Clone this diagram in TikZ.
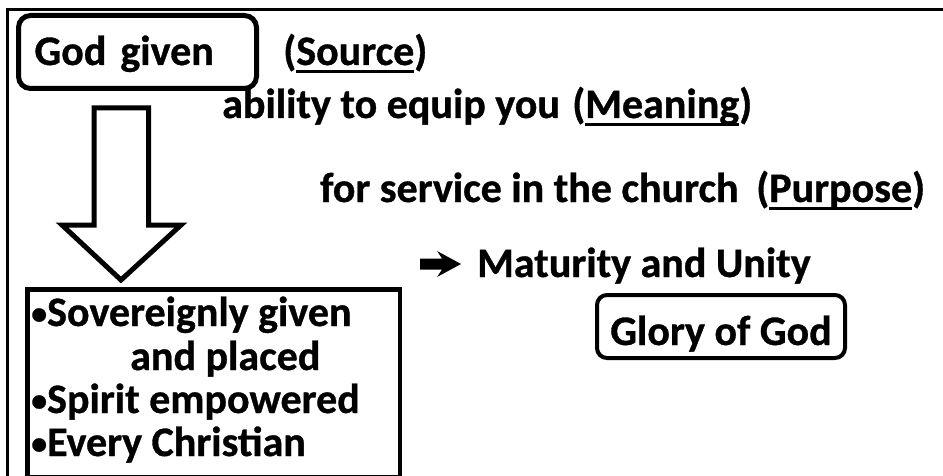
\documentclass[tikz,border=0pt]{standalone}
\usepackage{fontspec}
\setmainfont{Carlito}[BoldFeatures={FakeBold=0.8}]
\newcommand\myul[1]{\setbox0\hbox{#1}\rlap{\rule[-0.2em]{\wd0}{0.07em}}\box0}
\newcommand\smallbullet{{\fontsize{32}{32}\selectfont\raisebox{2pt}{•}}}
\begin{document}
\begin{tikzpicture}[x=1pt,y=-1pt,
  every node/.style={font=\fontsize{42}{44}\selectfont\bfseries, inner sep=0pt, text=black},
  txt/.style={anchor=base west},
  rbox/.style={draw, rounded corners=12pt, line width=5pt},
  framestyle/.style={line width=3pt},
  blockarrow/.style={line width=5pt, miter limit=10},
  listbox/.style={draw, line width=4.5pt, anchor=north west}]
\useasboundingbox (0,0) rectangle (943,476);
% outer frame (only top and left edges visible)
\draw[framestyle] (7.5,478) -- (7.5,10) -- (945,10);
% God given box
\node[rbox, minimum height=73pt, text width=206pt, inner xsep=16pt, align=left,
      text height=30pt, text depth=4pt] (god) at (137.5,52) {God given};
\node[txt] (source) at (283,65) {(\myul{Source})};
% block arrow
\draw[blockarrow] (94,108) -- (148.5,108) -- (148.5,225) -- (181,225) -- (121,280)
   -- (62,225) -- (94,225) -- cycle;
% list box
\node[listbox, minimum width=372.5pt, minimum height=188pt] (list) at (25,287) {};
\node[txt] (l1) at (31,326) {\smallbullet Sovereignly given};
\node[txt] (l2) at (130,370) {and placed};
\node[txt] (l3) at (31,413) {\smallbullet Spirit empowered};
\node[txt] (l4) at (31,456) {\smallbullet Every Christian};
% right column texts
\node[txt] (ability) at (222,118) {ability to equip you};
\node[txt] (meaning) at (572,118) {(\myul{Meaning})};
\node[txt] (service) at (320,202) {for service in the church};
\node[txt] (purpose) at (756,202) {(\myul{Purpose})};
% heavy right arrow before "Maturity and Unity"
\fill (420,258.5) -- (442,258.5) -- (437,251) -- (461,264) -- (437,277)
   -- (442,269.5) -- (420,269.5) -- cycle;
\node[txt] (maturity) at (477,277) {Maturity and Unity};
% Glory of God
\node[rbox, line width=4pt, rounded corners=10pt, minimum width=248pt, minimum height=63pt,
      text height=40pt, text depth=3pt] (glory) at (721,326.5) {Glory of God};
\end{tikzpicture}
\end{document}
